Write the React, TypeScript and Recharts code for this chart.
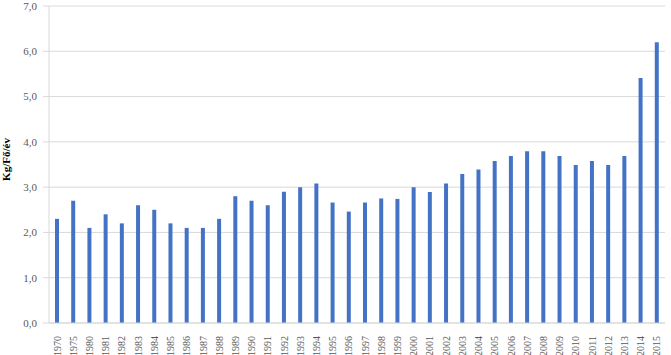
import { Bar, BarChart, CartesianGrid, XAxis, YAxis } from "recharts";

const years = [
  "1970", "1975", "1980", "1981", "1982", "1983", "1984", "1985", "1986", "1987",
  "1988", "1989", "1990", "1991", "1992", "1993", "1994", "1995", "1996", "1997",
  "1998", "1999", "2000", "2001", "2002", "2003", "2004", "2005", "2006", "2007",
  "2008", "2009", "2010", "2011", "2012", "2013", "2014", "2015",
];

const values = [
  2.3, 2.7, 2.1, 2.4, 2.2, 2.6, 2.5, 2.2, 2.1, 2.1,
  2.3, 2.8, 2.7, 2.6, 2.9, 3.0, 3.08, 2.66, 2.46, 2.66,
  2.75, 2.74, 3.0, 2.89, 3.08, 3.29, 3.39, 3.58, 3.69, 3.79,
  3.79, 3.69, 3.49, 3.58, 3.49, 3.69, 5.41, 6.2,
];

const yTicks = [0, 1, 2, 3, 4, 5, 6, 7];

const data = years.map((year, i) => ({ year, value: values[i] }));

const FONT = "'Liberation Serif', 'Times New Roman', serif";

function YearTick({ x, y, payload }) {
  return (
    <g transform={`translate(${x},${y})`}>
      <text
        transform="rotate(-90)"
        x={-5}
        dy="0.35em"
        textAnchor="end"
        fill="#595959"
        fontSize={10}
        fontFamily={FONT}
      >
        {payload.value}
      </text>
    </g>
  );
}

export default function App() {
  return (
    <div style={{ position: "absolute", left: 0, top: 0, width: 671, height: 355, background: "#fff" }}>
      <BarChart
        width={671}
        height={355}
        data={data}
        margin={{ top: 6, right: 6, left: 0, bottom: 0 }}
      >
        <CartesianGrid vertical={false} stroke="#d9d9d9" />
        <XAxis
          dataKey="year"
          interval={0}
          height={32}
          tick={<YearTick />}
          tickLine={false}
          axisLine={{ stroke: "#d9d9d9" }}
        />
        <YAxis
          domain={[0, 7]}
          ticks={yTicks}
          width={49}
          tickSize={6}
          tickMargin={6}
          tickLine={{ stroke: "#d9d9d9" }}
          axisLine={{ stroke: "#d9d9d9" }}
          tick={{ fill: "#595959", fontSize: 11, fontFamily: FONT }}
          tickFormatter={(v) => v.toFixed(1).replace(".", ",")}
          label={{
            value: "Kg/Fő/év",
            angle: -90,
            position: "insideLeft",
            offset: 6,
            dy: -5,
            style: { textAnchor: "middle", fontWeight: "bold", fontSize: 11, fill: "#000", fontFamily: FONT },
          }}
        />
        <Bar dataKey="value" fill="#4472C4" barSize={4} isAnimationActive={false} />
      </BarChart>
    </div>
  );
}
